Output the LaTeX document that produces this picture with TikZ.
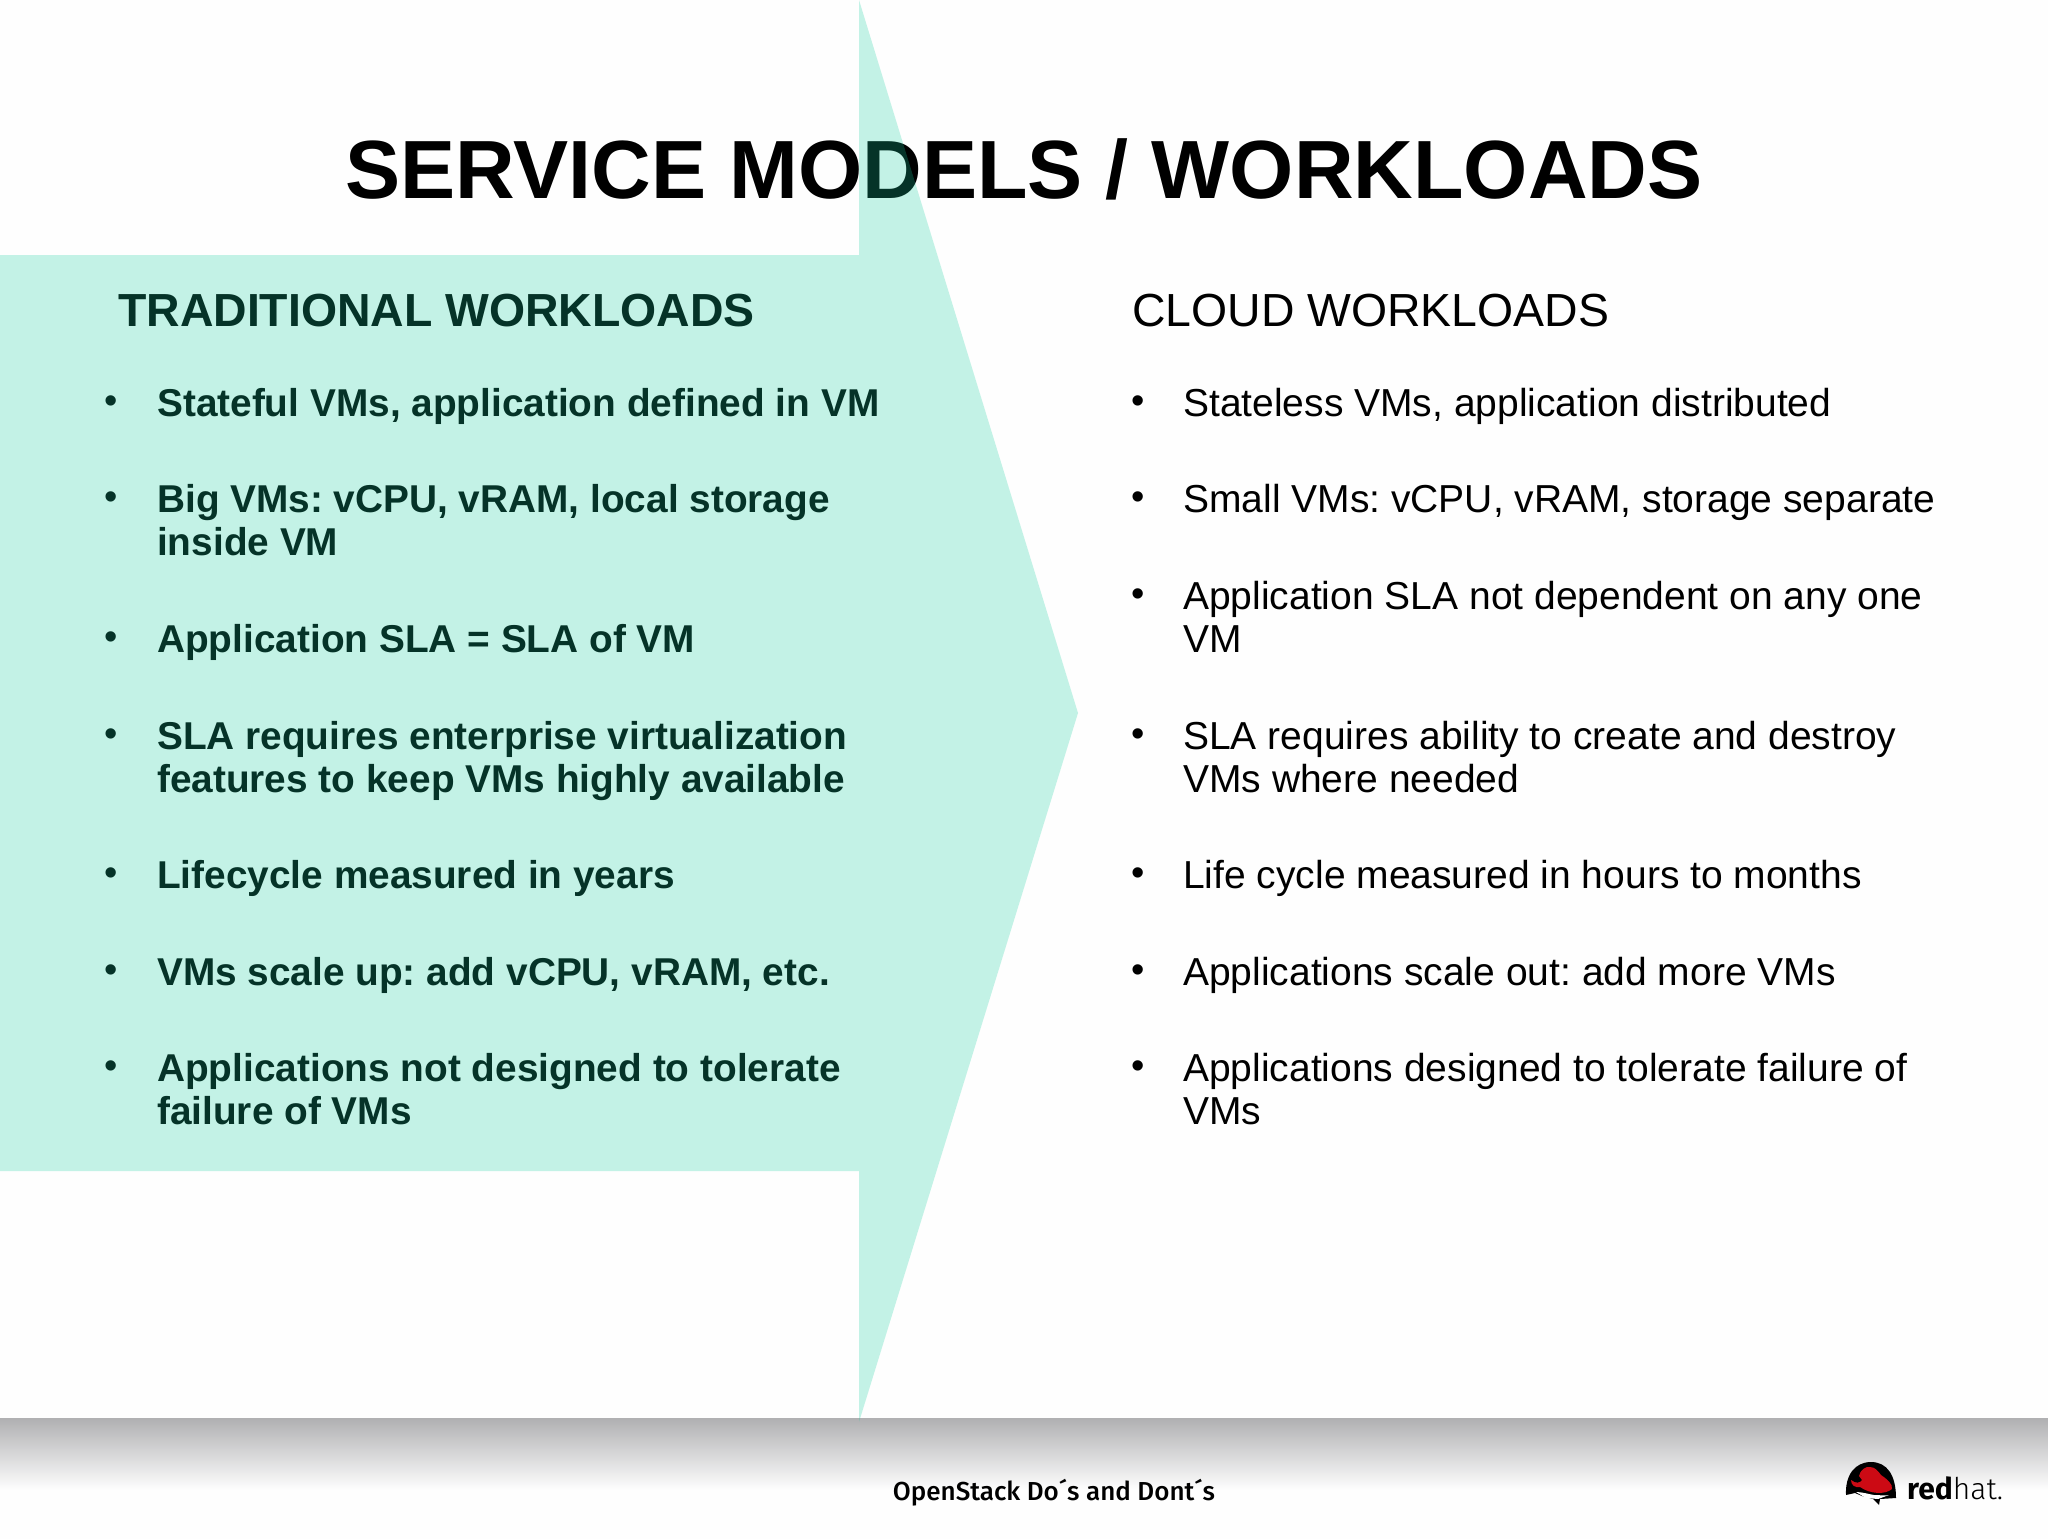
\documentclass[tikz,border=0pt]{standalone}
\usepackage{fontspec}
\setmainfont{Liberation Sans}
\newfontfamily\footfont{Fira Sans Medium}
\newfontfamily\logobold{Fira Sans}
\newfontfamily\lightfont{Fira Sans Light}
\frenchspacing
\definecolor{arrowcol}{RGB}{22,207,160}
\definecolor{pagecol}{RGB}{254,254,254}
\definecolor{shadecol}{RGB}{176,176,178}
\definecolor{hatred}{RGB}{204,10,20}
\tikzset{
  x=1pt,y=-1pt,
  itemtext/.style={anchor=base west,inner sep=0pt,align=left,text=black,font=\fontsize{39}{43}\selectfont},
  itembold/.style={itemtext,font=\fontsize{38.8}{43}\selectfont\bfseries},
  dot/.style={anchor=base,inner sep=0pt,text=black,font=\fontsize{38}{38}\selectfont},
  headtext/.style={anchor=base west,inner sep=0pt,text=black,font=\fontsize{46.4}{50}\selectfont},
}
\begin{document}
\begin{tikzpicture}
\useasboundingbox (0,0) rectangle (2048,1539);
\fill[pagecol] (0,0) rectangle (2048,1539);
\shade[top color=shadecol,bottom color=pagecol] (0,1418) rectangle (2048,1490);
% left column and title below the translucent arrow
\node[anchor=base,inner sep=0pt,text=black,font=\fontsize{82.6}{80}\selectfont\bfseries] (title) at (1024,198) {SERVICE MODELS / WORKLOADS};
\node[headtext,font=\fontsize{46.4}{50}\selectfont\bfseries] (lhead) at (118,326) {TRADITIONAL WORKLOADS};
\foreach \n/\y in {a/417,b/513,c/653,d/750,e/889,f/986,g/1082}{
  \node[dot] (ld\n) at (111,{\y-4}) {•};
}
\foreach \n/\y in {a/417,b/513,c/610,d/750,e/889,f/986,g/1082}{
  \node[dot] (rd\n) at (1138,{\y-4}) {•};
}
\node[itembold] (l1) at (157,416.5) {Stateful VMs, application defined in VM};
\node[itembold] (l2) at (157,555.5) {Big VMs: vCPU, vRAM, local storage\\inside VM};
\node[itembold] (l3) at (157,652.5) {Application SLA = SLA of VM};
\node[itembold] (l4) at (157,792.5) {SLA requires enterprise virtualization\\features to keep VMs highly available};
\node[itembold] (l5) at (157,888.5) {Lifecycle measured in years};
\node[itembold] (l6) at (157,985.5) {VMs scale up: add vCPU, vRAM, etc.};
\node[itembold] (l7) at (157,1124.5) {Applications not designed to tolerate\\failure of VMs};
% translucent arrow
\fill[arrowcol,fill opacity=0.25] (0,255) -- (859,255) -- (859,0) -- (1078,713) -- (859,1422) -- (859,1171) -- (0,1171) -- cycle;
% right column
\node[headtext] (rhead) at (1132,326) {CLOUD WORKLOADS};
\node[itemtext] (r1) at (1183,416.5) {Stateless VMs, application distributed};
\node[itemtext] (r2) at (1183,512.5) {Small VMs: vCPU, vRAM, storage separate};
\node[itemtext] (r3) at (1183,652.5) {Application SLA not dependent on any one\\VM};
\node[itemtext] (r4) at (1183,792.5) {SLA requires ability to create and destroy\\VMs where needed};
\node[itemtext] (r5) at (1183,888.5) {Life cycle measured in hours to months};
\node[itemtext] (r6) at (1183,985.5) {Applications scale out: add more VMs};
\node[itemtext] (r7) at (1183,1124.5) {Applications designed to tolerate failure of\\VMs};
% footer
\node[anchor=base,inner sep=0pt,text=black,font=\footfont\fontsize{26}{26}\selectfont] (foot) at (1054,1500) {OpenStack Do´s and Dont´s};
% logo
\fill[black] (1846,1495) .. controls (1845,1475) and (1855,1462) .. (1871,1462) .. controls (1887,1462) and (1896,1475) .. (1896,1498) -- (1880,1499) -- (1879,1505) -- (1873,1499) -- (1862,1496) -- (1855,1493) -- cycle;
\fill[white] (1856,1492) .. controls (1862,1492) and (1868,1494) .. (1874,1495) .. controls (1880,1495) and (1885,1496) .. (1889,1495) -- (1878,1499) -- (1866,1498) -- cycle;
\fill[hatred] (1851,1480) .. controls (1856,1484) and (1860,1483) .. (1862,1480) -- (1859,1476) .. controls (1860,1470) and (1866,1466) .. (1870,1467) .. controls (1875,1467) and (1878,1471) .. (1881,1475) .. controls (1887,1479) and (1893,1484) .. (1892,1489) .. controls (1885,1495) and (1870,1494) .. (1860,1487) .. controls (1855,1488) and (1851,1485) .. cycle;
\node[anchor=base west,inner sep=0pt,text=black,font=\fontsize{30}{30}\selectfont] (logotext) at (1907,1499) {{\logobold\bfseries red}{\lightfont hat.}};
\end{tikzpicture}
\end{document}
